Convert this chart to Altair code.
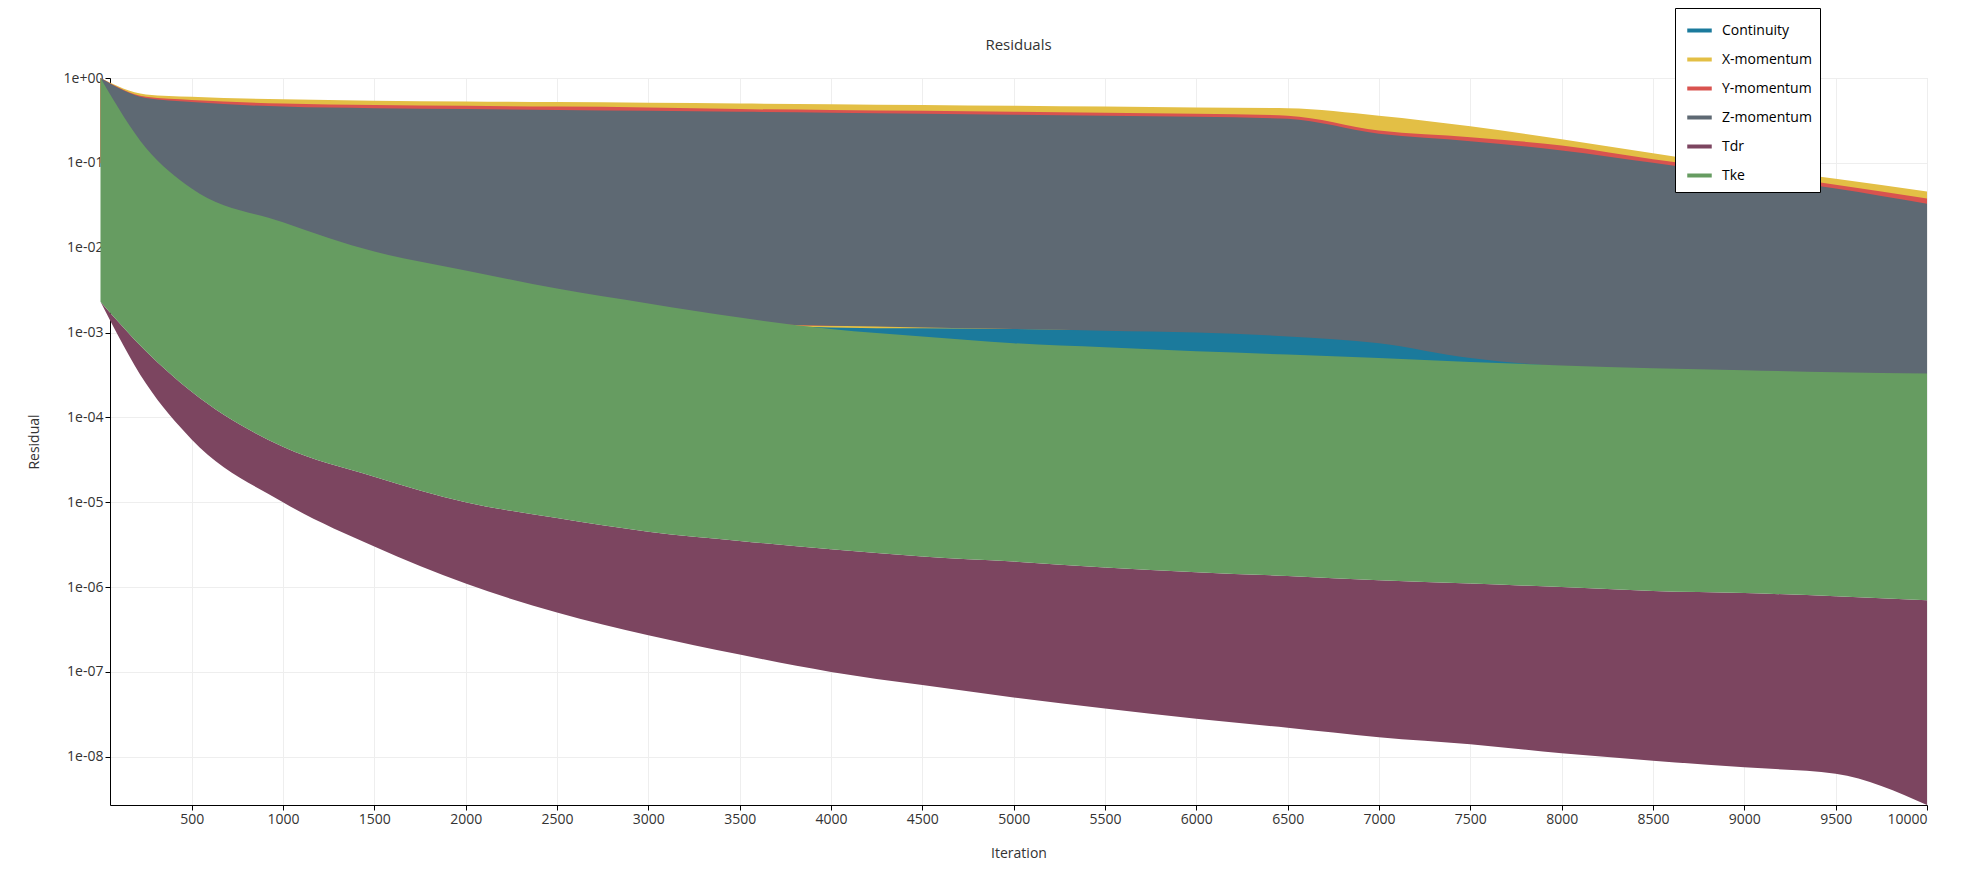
import altair as alt
import pandas as pd

series = ["Continuity", "X-momentum", "Y-momentum", "Z-momentum", "Tdr", "Tke"]
colors = ["#1b7a9c", "#e3bf45", "#d9534f", "#5e6973", "#7c4560", "#669c61"]

iters = [1, 250, 500, 1000, 1500, 2000, 2500, 3000, 3500, 4000, 4500, 5000, 5500, 6000, 6500, 7000, 7500, 8000, 8500, 9000, 9500, 10000]

cont_hi = [1.0, 0.3, 0.1, 0.05, 0.03, 0.02, 0.015, 0.01, 0.008, 0.006, 0.005, 0.004, 0.004, 0.003, 0.003, 0.003, 0.002, 0.002, 0.002, 0.002, 0.002, 0.002]
cont_lo = [1e-1, 1e-2, 5e-3, 2e-3, 1.5e-3, 1.2e-3, 1e-3, 1e-3, 8e-4, 6.5e-4, 5.8e-4, 5.2e-4, 4.8e-4, 4.5e-4, 4.3e-4, 4.1e-4, 4.0e-4, 3.9e-4, 3.8e-4, 3.6e-4, 3.4e-4, 3.3e-4]
x_hi = [1.0, 0.64, 0.6, 0.56, 0.54, 0.53, 0.52, 0.51, 0.5, 0.49, 0.48, 0.47, 0.46, 0.45, 0.44, 0.36, 0.27, 0.19, 0.13, 0.09, 0.065, 0.046]
x_lo = [1e-1, 2e-2, 1e-2, 5e-3, 3e-3, 2e-3, 1.6e-3, 1.4e-3, 1.25e-3, 1.15e-3, 1.12e-3, 1.1e-3, 1.07e-3, 1.05e-3, 1.0e-3, 9.5e-4, 8e-4, 6e-4, 5e-4, 4.5e-4, 4e-4, 3.5e-4]
y_hi = [1.0, 0.6, 0.55, 0.5, 0.48, 0.47, 0.46, 0.45, 0.43, 0.42, 0.41, 0.4, 0.39, 0.38, 0.36, 0.24, 0.2, 0.16, 0.11, 0.08, 0.055, 0.038]
y_lo = [1e-1, 2e-2, 1e-2, 5e-3, 3e-3, 2e-3, 1.6e-3, 1.4e-3, 1.25e-3, 1.2e-3, 1.18e-3, 1.15e-3, 1.12e-3, 1.1e-3, 1.05e-3, 1.0e-3, 8.5e-4, 6.5e-4, 5.5e-4, 5e-4, 4.5e-4, 4e-4]
z_hi = [1.0, 0.58, 0.52, 0.46, 0.44, 0.43, 0.42, 0.41, 0.4, 0.39, 0.38, 0.37, 0.36, 0.35, 0.33, 0.22, 0.18, 0.14, 0.1, 0.07, 0.05, 0.033]
z_lo = [1.0, 0.05, 0.02, 0.01, 5e-3, 3e-3, 2e-3, 1.5e-3, 1.3e-3, 1.2e-3, 1.15e-3, 1.1e-3, 1.05e-3, 1.0e-3, 9e-4, 7.5e-4, 5e-4, 4e-4, 3.7e-4, 3.5e-4, 3.3e-4, 3.2e-4]
tdr_hi = [2.3e-3, 6e-4, 2e-4, 4.5e-5, 2e-5, 1e-5, 6.5e-6, 4.5e-6, 3.5e-6, 2.8e-6, 2.3e-6, 2e-6, 1.7e-6, 1.5e-6, 1.35e-6, 1.2e-6, 1.1e-6, 1.0e-6, 9e-7, 8.5e-7, 7.8e-7, 7e-7]
tdr_lo = [2.3e-3, 2.5e-4, 5.5e-5, 1e-5, 3e-6, 1.1e-6, 5e-7, 2.7e-7, 1.6e-7, 1e-7, 7e-8, 5e-8, 3.7e-8, 2.8e-8, 2.2e-8, 1.7e-8, 1.4e-8, 1.1e-8, 9e-9, 7.5e-9, 6.3e-9, 2.7e-9]
tke_hi = [1.0, 0.15, 0.05, 0.02, 9e-3, 5.4e-3, 3.3e-3, 2.2e-3, 1.5e-3, 1.1e-3, 9e-4, 7.5e-4, 6.7e-4, 6e-4, 5.5e-4, 5e-4, 4.5e-4, 4.1e-4, 3.8e-4, 3.6e-4, 3.4e-4, 3.3e-4]
tke_lo = tdr_hi

title_text = "Residuals"

his = [cont_hi, x_hi, y_hi, z_hi, tdr_hi, tke_hi]
los = [cont_lo, x_lo, y_lo, z_lo, tdr_lo, tke_lo]

rows = []
for i, (s, hi, lo) in enumerate(zip(series, his, los)):
    for it, h, l in zip(iters, hi, lo):
        rows.append({"series": s, "order": i, "iter": it, "hi": h, "lo": l})
df = pd.DataFrame(rows)

W, H = 1817, 727
xs = alt.Scale(domain=[53, 10000], nice=False, zero=False)
ys = alt.Scale(type="log", domain=[2.7e-9, 1], nice=False)
cs = alt.Scale(domain=series, range=colors)

lab = "replace(format(datum.value, '.0e'), /e([+-])(\\d)$/, 'e$10$2')"
axis_common = dict(grid=True, gridColor="#eeeeee", domainColor="black", tickColor="black",
                   labelFontSize=14, titleFontSize=14, titleFontWeight="normal",
                   labelColor="#333", titleColor="#333", labelFont="Open Sans", titleFont="Open Sans")

layers = []
for i, s in enumerate(series):
    layers.append(
        alt.Chart(df[df.series == s]).mark_area(opacity=1, interpolate="monotone", strokeWidth=0).encode(
            x=alt.X("iter:Q", scale=xs, title="Iteration",
                    axis=alt.Axis(values=list(range(500, 10001, 500)), format="d", titlePadding=20, **axis_common)),
            y=alt.Y("hi:Q", scale=ys, title="Residual",
                    axis=alt.Axis(values=[1e-8, 1e-7, 1e-6, 1e-5, 1e-4, 1e-3, 1e-2, 1e-1, 1],
                                  labelExpr=lab, titlePadding=22, **axis_common)),
            y2="lo:Q",
            color=alt.Color("series:N", scale=cs, sort=series,
                            legend=alt.Legend(title=None, orient="none", legendX=1565, legendY=-70,
                                              symbolType="stroke", symbolStrokeWidth=4, symbolSize=600,
                                              fillColor="white", strokeColor="black", padding=8,
                                              labelFontSize=14, rowPadding=6, labelFont="Open Sans",
                                              labelOffset=8, symbolOffset=2)),
            stroke=alt.Stroke("series:N", scale=cs, sort=series),
        )
    )

title_layer = alt.Chart(pd.DataFrame({"t": [title_text]})).mark_text(
    fontSize=15, color="#333", font="Open Sans", baseline="middle", align="center"
).encode(x=alt.value(W / 2), y=alt.value(-33), text="t:N")

chart = alt.layer(*layers, title_layer).properties(
    width=W, height=H,
    autosize=alt.AutoSizeParams(type="none"),
    padding={"left": 102, "top": 70, "right": 20, "bottom": 60},
).configure_view(stroke="#dddddd")

chart.save("out.html", embed_options={"renderer": "svg", "actions": False})
